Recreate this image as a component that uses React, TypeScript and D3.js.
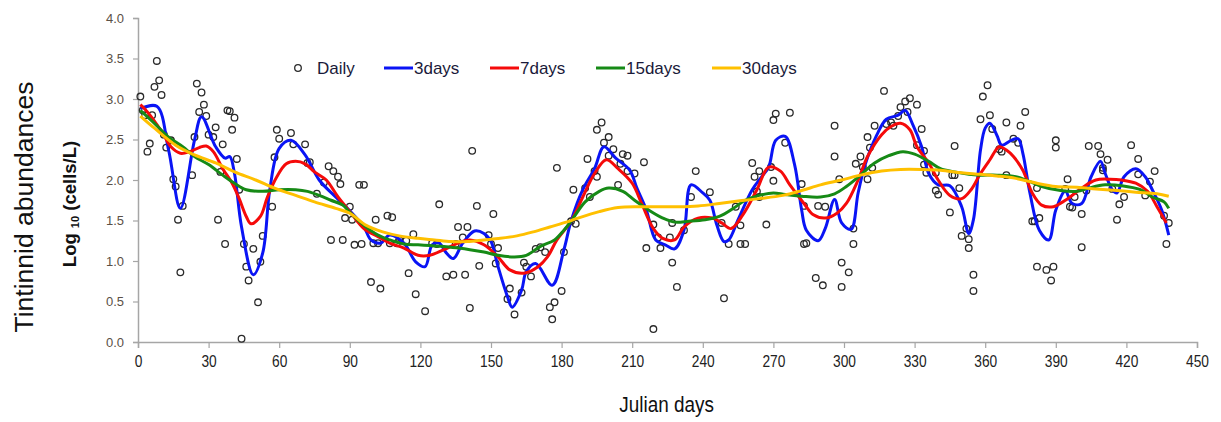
import React, { useEffect, useRef } from "react";
import * as d3 from "d3";

// daily observations (julian day, log10 cells/L)
const dailyDays = [1,2,3,4,5,6,7,8,9,10,11,12,14,15,16,17,18,19,23,24,25,26,27,28,29,30,32,33,34,35,36,37,38,39,40,41,42,43,44,45,46,47,49,51,52,53,57,58,59,60,65,66,71,72,73,76,79,81,82,83,85,86,87,88,90,91,92,
  94,95,96,99,100,101,102,103,106,107,108,110,111,114,115,117,118,122,125,127,128,131,134,135,136,138,139,140,141,142,144,145,149,150,151,152,153,157,158,160,163,164,165,167,169,171,173,175,176,177,178,180,181,184,
  185,186,190,191,192,194,195,195,197,198,200,200,202,204,205,206,208,208,211,215,216,219,219,221,222,226,227,227,229,232,235,237,243,248,249,251,254,256,256,258,261,262,263,264,264,267,269,270,270,271,275,
  277,282,283,283,284,288,291,289,292,296,296,298,299,299,302,304,304,305,307,308,310,310,311,312,313,317,318,320,321,323,324,326,327,328,331,333,331,334,334,335,339,339,340,345,346,347,347,349,350,352,353,353,355,355,358,359,361,362,363,366,
  367,369,369,372,374,375,377,380,381,382,383,382,386,389,388,390,390,394,395,396,397,398,401,401,403,404,408,409,410,410,412,414,417,416,419,422,425,425,428,430,432,436,438,437];
const dailyValues = [3.03,2.86,2.80,2.35,2.45,2.80,3.15,3.47,3.23,3.05,2.56,2.40,2.49,2.01,1.92,1.51,0.86,1.68,2.06,2.53,3.19,2.84,3.08,2.93,2.79,2.56,2.53,2.65,1.51,2.10,2.44,1.21,2.86,2.85,2.62,2.77,2.26,1.88,0.04,1.21,0.93,0.76,1.15,0.49,0.99,1.31,1.67,2.28,2.62,2.51,2.58,2.44,2.44,2.21,2.22,1.83,1.97,2.17,1.26,2.11,2.04,1.95,1.26,1.53,1.67,1.51,1.20,
  1.94,1.21,1.94,0.74,1.22,1.51,1.22,0.66,1.56,1.22,1.54,1.22,1.26,1.25,0.85,1.33,0.59,0.38,1.22,1.21,1.70,0.81,0.83,1.21,1.42,1.29,0.83,1.42,0.42,2.36,1.68,0.94,1.32,1.21,1.58,0.97,1.16,0.53,0.66,0.34,0.61,0.98,0.93,0.81,1.15,1.17,1.11,0.43,0.28,0.49,2.15,0.63,1.11,1.49,
  1.88,1.46,1.90,2.26,1.79,2.11,2.62,2.04,2.71,2.46,2.53,2.30,2.38,1.94,2.20,2.32,2.30,2.11,2.08,2.22,1.16,1.45,0.16,1.29,1.16,1.29,0.98,1.47,0.68,1.38,1.79,2.11,1.85,1.47,0.54,1.21,1.67,1.44,1.21,1.21,2.21,2.04,1.86,1.79,2.11,1.45,2.16,1.99,2.74,2.82,2.46,
  2.83,1.95,1.68,1.21,1.22,0.79,0.70,1.68,1.67,2.29,2.67,2.01,0.98,0.68,0.86,1.40,1.21,2.20,2.29,2.16,2.01,2.53,2.40,2.15,2.67,3.10,2.69,2.71,2.67,2.79,2.90,2.97,2.84,3.01,2.93,2.63,2.43,2.36,2.19,2.09,2.09,1.87,1.82,1.60,2.06,2.06,2.42,1.90,1.31,1.40,1.27,1.16,0.83,0.63,2.75,3.03,3.17,2.80,2.63,2.38,
  2.35,2.71,2.06,2.51,2.46,2.67,2.84,1.49,1.49,1.90,1.53,0.93,0.89,0.93,0.76,2.40,2.49,1.89,2.01,1.67,1.66,1.79,1.58,1.17,1.87,2.42,2.42,2.32,2.12,2.15,2.25,1.89,1.70,1.51,1.79,2.43,2.26,2.07,1.81,1.98,2.11,1.56,1.47,1.21];

// 3-day smoothing
const days3 = [1,8,13,18,24,27,33,37,39,41,44,49,53,56,60,65,71,77,84,90,96,99,103,107,113,118,122,125,128,131,134,138,143,147,150,153,157,159,163,165,169,176,181,184,189,194,198,203,209,212,216,220,224,228,232,235,240,243,246,249,251,255,261,265,268,271,275,279,282,284,289,292,296,299,303,306,309,314,318,323,326,329,333,336,340,345,350,353,355,358,360,362,365,367,371,374,376,379,383,387,390,394,397,401,405,409,411,414,416,419,424,428,431,435,438];
const values3 = [2.88,2.91,2.37,1.65,2.49,2.78,2.41,2.27,2.29,2.08,1.42,0.83,1.10,1.88,2.39,2.49,2.31,2.00,1.79,1.62,1.42,1.26,1.22,1.32,1.22,0.99,0.93,1.20,1.22,1.10,1.03,1.22,1.37,1.34,1.24,0.93,0.56,0.43,0.64,0.87,0.97,0.70,1.14,1.49,1.88,2.14,2.41,2.27,2.12,1.90,1.63,1.26,1.20,1.15,1.38,1.94,1.84,1.75,1.44,1.24,1.26,1.51,1.88,2.04,2.16,2.49,2.54,2.19,1.63,1.38,1.25,1.40,1.76,1.47,1.39,1.84,2.19,2.56,2.75,2.80,2.86,2.70,2.41,2.08,1.94,1.93,1.67,1.34,1.51,2.37,2.64,2.70,2.55,2.43,2.49,2.51,2.33,1.84,1.38,1.26,1.63,1.86,1.71,1.71,2.04,2.23,2.08,1.88,1.84,2.04,2.14,2.04,1.88,1.63,1.32];

// 7-day smoothing
const days7 = [1,4,10,14,18,22,26,29,32,36,40,43,46,48,52,55,59,63,67,71,75,80,85,90,96,102,107,113,119,124,130,136,141,147,153,158,164,170,174,178,184,189,194,199,204,210,214,219,223,228,232,238,244,248,252,257,263,268,273,277,283,287,292,297,301,306,310,316,320,324,328,331,336,340,345,350,354,358,362,366,369,372,376,380,384,389,393,397,401,407,413,418,424,429,433,437];
const values7 = [2.93,2.84,2.60,2.41,2.33,2.35,2.40,2.42,2.35,2.14,1.96,1.77,1.55,1.46,1.55,1.79,2.04,2.20,2.23,2.20,2.10,2.00,1.79,1.61,1.40,1.30,1.22,1.16,1.07,1.07,1.14,1.22,1.26,1.20,1.05,0.89,0.85,0.93,1.05,1.26,1.49,1.79,2.08,2.25,2.14,1.96,1.71,1.40,1.28,1.26,1.42,1.53,1.53,1.47,1.40,1.57,1.88,2.16,2.11,1.94,1.71,1.57,1.53,1.59,1.71,2.00,2.29,2.56,2.66,2.70,2.62,2.41,2.21,2.00,1.81,1.77,1.88,2.08,2.25,2.41,2.37,2.29,2.12,1.84,1.69,1.67,1.73,1.81,1.90,2.00,2.01,2.00,1.96,1.86,1.67,1.47];

// 15-day smoothing
const days15 = [1,7,13,19,24,30,36,41,46,53,60,67,72,77,82,87,90,96,102,107,113,119,124,130,136,141,147,153,160,165,171,177,181,184,190,196,200,206,211,217,223,228,234,241,247,253,258,264,270,275,282,290,296,301,307,313,319,325,330,336,341,347,353,358,365,373,379,384,392,399,404,411,418,426,431,436,438];
const values15 = [2.86,2.70,2.53,2.41,2.29,2.19,2.06,1.96,1.88,1.86,1.88,1.88,1.86,1.81,1.75,1.69,1.60,1.44,1.32,1.26,1.21,1.20,1.19,1.18,1.16,1.14,1.11,1.07,1.05,1.07,1.18,1.26,1.38,1.49,1.73,1.86,1.90,1.86,1.75,1.63,1.53,1.48,1.49,1.51,1.55,1.65,1.75,1.81,1.84,1.82,1.80,1.79,1.83,1.92,2.06,2.21,2.30,2.35,2.32,2.23,2.14,2.10,2.07,2.06,2.06,2.04,1.98,1.92,1.87,1.86,1.90,1.94,1.93,1.88,1.79,1.73,1.65];

// 30-day smoothing
const days30 = [1,7,16,24,33,41,50,58,67,75,84,90,97,104,111,119,126,133,140,147,154,161,168,175,182,187,196,204,213,221,230,238,247,255,264,274,282,290,299,307,316,324,333,341,350,358,365,373,382,390,399,407,416,424,433,438];
const values30 = [2.79,2.64,2.43,2.31,2.21,2.10,2.00,1.90,1.81,1.73,1.65,1.59,1.44,1.36,1.31,1.28,1.26,1.24,1.24,1.26,1.28,1.31,1.36,1.42,1.48,1.53,1.61,1.66,1.67,1.67,1.67,1.68,1.71,1.74,1.77,1.81,1.87,1.94,2.00,2.06,2.11,2.13,2.13,2.12,2.09,2.07,2.05,2.02,1.96,1.92,1.91,1.89,1.87,1.85,1.83,1.80];

const yTicks = [0, 0.5, 1, 1.5, 2, 2.5, 3, 3.5, 4];
const xTicks = [0, 30, 60, 90, 120, 150, 180, 210, 240, 270, 300, 330, 360, 390, 420, 450];

const series = [
  { name: "3days", days: days3, values: values3, color: "#0a14f5" },
  { name: "7days", days: days7, values: values7, color: "#f50a0a" },
  { name: "15days", days: days15, values: values15, color: "#168a16" },
  { name: "30days", days: days30, values: values30, color: "#ffc000" },
];

const W = 1221;
const H = 422;
const sans = "'Liberation Sans', Arial, sans-serif";

export default function App() {
  const ref = useRef<SVGGElement>(null);

  useEffect(() => {
    const svg = d3.select(ref.current);
    svg.selectAll("*").remove();

    const x = d3.scaleLinear().domain([0, 450]).range([138, 1197]);
    const y = d3.scaleLinear().domain([0, 4]).range([342, 18]);

    // axes
    const gx = svg.append("g").attr("transform", `translate(0,${y(0)})`)
      .call(d3.axisBottom(x).tickValues(xTicks).tickSizeOuter(0).tickSize(6).tickPadding(8).tickFormat(d3.format("d")));
    gx.select(".domain").attr("stroke", "#a6a6a6").attr("stroke-width", 1.5);
    gx.selectAll(".tick line").attr("stroke", "#a6a6a6").attr("stroke-width", 1.2);
    gx.selectAll(".tick text").attr("fill", "#222").style("font-family", sans).style("font-size", "16px")
      .attr("transform", "scale(0.86,1)");

    const gy = svg.append("g").attr("transform", `translate(${x(0)},0)`)
      .call(d3.axisLeft(y).tickValues(yTicks).tickSizeOuter(0).tickSize(5).tickPadding(9).tickFormat(d3.format(".1f")));
    gy.select(".domain").attr("stroke", "#a6a6a6").attr("stroke-width", 1.5);
    gy.selectAll(".tick line").attr("stroke", "#a6a6a6").attr("stroke-width", 1.2);
    gy.selectAll(".tick text").attr("fill", "#5a5046").style("font-family", sans).style("font-size", "13px");

    // daily points
    svg.append("g").selectAll("circle")
      .data(dailyDays.map((d, i) => [d, dailyValues[i]]))
      .join("circle")
      .attr("cx", (d) => x(d[0]))
      .attr("cy", (d) => y(d[1]))
      .attr("r", 3.3)
      .attr("fill", "none")
      .attr("stroke", "#2a2a2a")
      .attr("stroke-width", 1.3);

    // smoothed lines
    const line = d3.line<[number, number]>()
      .x((d) => x(d[0]))
      .y((d) => y(d[1]))
      .curve(d3.curveCatmullRom.alpha(0.5));
    series.forEach((s) => {
      svg.append("path")
        .datum(s.days.map((d, i) => [d, s.values[i]] as [number, number]))
        .attr("fill", "none")
        .attr("stroke", s.color)
        .attr("stroke-width", 3)
        .attr("stroke-linejoin", "round")
        .attr("d", line);
    });

    // legend
    const lg = svg.append("g").style("font-family", sans).style("font-size", "17px");
    lg.append("circle").attr("cx", 298).attr("cy", 68).attr("r", 3.3)
      .attr("fill", "none").attr("stroke", "#2a2a2a").attr("stroke-width", 1.3);
    lg.append("text").attr("x", 317).attr("y", 74).attr("fill", "#1a1a3a").text("Daily");
    const legendX = [384, 490, 596, 712];
    series.forEach((s, i) => {
      lg.append("line").attr("x1", legendX[i]).attr("x2", legendX[i] + 29)
        .attr("y1", 68).attr("y2", 68).attr("stroke", s.color).attr("stroke-width", 3);
      lg.append("text").attr("x", legendX[i] + 30).attr("y", 74).attr("fill", "#1a1a3a").text(s.name);
    });
  }, []);

  return (
    <svg width={W} height={H}
      style={{ position: "absolute", left: 0, top: 0, background: "#fff", fontFamily: sans }}>
      <text transform="translate(33,207) rotate(-90)" textAnchor="middle" fontSize={26.5} fill="#111">
        Tintinnid abundances
      </text>
      <text transform="translate(76,204) rotate(-90)" textAnchor="middle" fontSize={18.5} fontWeight="bold" fill="#111">
        Log <tspan fontSize={11} dy={3}>10</tspan><tspan dy={-3}> (cells/L)</tspan>
      </text>
      <text x={667} y={412} textAnchor="middle" fontSize={22} fill="#111" transform="translate(93,0) scale(0.86,1)">
        Julian days
      </text>
      <g ref={ref} />
    </svg>
  );
}
